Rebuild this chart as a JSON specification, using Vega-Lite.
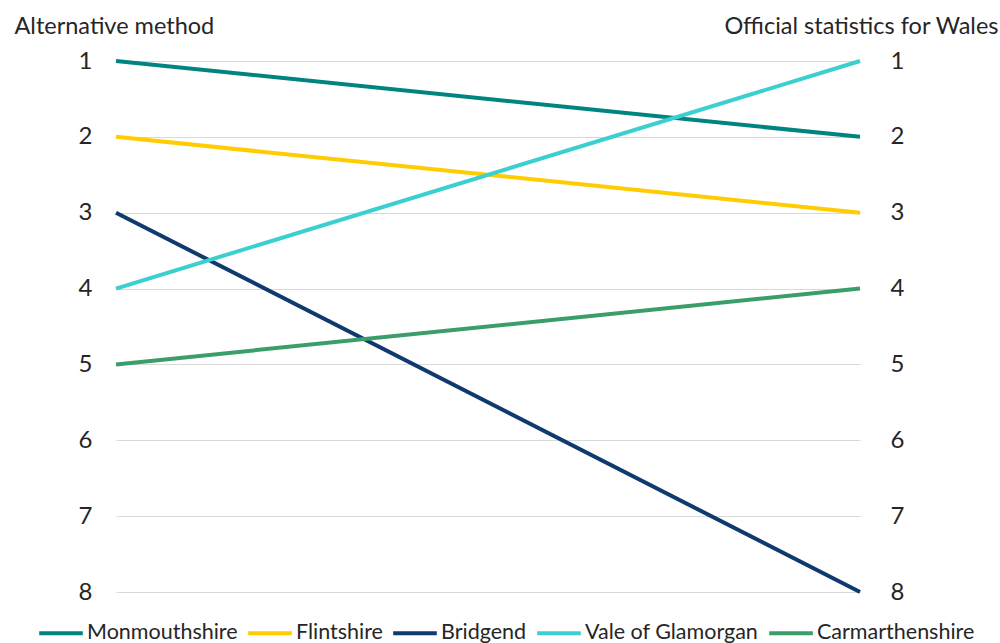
{
  "$schema": "https://vega.github.io/schema/vega-lite/v6.json",
  "autosize": "none",
  "width": 744,
  "height": 531,
  "padding": {"left": 116, "top": 61, "right": 140, "bottom": 51},
  "background": "white",
  "config": {
    "view": {"stroke": null},
    "font": "Lato"
  },
  "data": {
    "values": [
      {"area": "Monmouthshire", "method": 0, "rank": 1},
      {"area": "Monmouthshire", "method": 1, "rank": 2},
      {"area": "Flintshire", "method": 0, "rank": 2},
      {"area": "Flintshire", "method": 1, "rank": 3},
      {"area": "Bridgend", "method": 0, "rank": 3},
      {"area": "Bridgend", "method": 1, "rank": 8},
      {"area": "Vale of Glamorgan", "method": 0, "rank": 4},
      {"area": "Vale of Glamorgan", "method": 1, "rank": 1},
      {"area": "Carmarthenshire", "method": 0, "rank": 5},
      {"area": "Carmarthenshire", "method": 1, "rank": 4}
    ]
  },
  "layer": [
    {
      "mark": {"type": "line", "strokeWidth": 4},
      "encoding": {
        "x": {"field": "method", "type": "quantitative", "scale": {"domain": [0, 1]}, "axis": null},
        "y": {
          "field": "rank", "type": "quantitative",
          "scale": {"domain": [1, 8], "reverse": true, "nice": false, "zero": false},
          "axis": {
            "orient": "left", "values": [1,2,3,4,5,6,7,8], "format": "d",
            "domain": false, "ticks": false, "grid": true, "gridColor": "#d9d9d9", "gridWidth": 1,
            "labelFontSize": 24, "labelColor": "#262626", "labelPadding": 24, "labelFont": "Lato",
            "title": "Alternative method", "titleAngle": 0, "titleAlign": "left", "titleBaseline": "alphabetic",
            "titleX": -102, "titleY": -28, "titleFontSize": 23.5, "titleFontWeight": "normal", "titleColor": "#262626", "titleFont": "Lato"
          }
        },
        "color": {
          "field": "area", "type": "nominal",
          "scale": {
            "domain": ["Monmouthshire", "Flintshire", "Bridgend", "Vale of Glamorgan", "Carmarthenshire"],
            "range": ["#00847F", "#FFCC00", "#0F3A6E", "#3CCFCF", "#3A9E6A"]
          },
          "legend": {
            "title": null, "orient": "none", "direction": "horizontal", "columns": 5,
            "legendX": -79, "legendY": 548,
            "symbolType": "stroke", "symbolSize": 1900, "symbolStrokeWidth": 4,
            "labelFontSize": 21.5, "labelColor": "#262626", "labelOffset": 2, "columnPadding": 2,
            "labelLimit": 400, "labelFont": "Lato"
          }
        }
      }
    },
    {
      "mark": {"type": "point", "opacity": 0},
      "encoding": {
        "x": {"field": "method", "type": "quantitative", "scale": {"domain": [0, 1]}, "axis": null},
        "y": {
          "field": "rank", "type": "quantitative",
          "scale": {"domain": [1, 8], "reverse": true, "nice": false, "zero": false},
          "axis": {
            "orient": "right", "values": [1,2,3,4,5,6,7,8], "format": "d",
            "domain": false, "ticks": false, "grid": false,
            "labelFontSize": 24, "labelColor": "#262626", "labelPadding": 30, "labelFont": "Lato",
            "title": "Official statistics for Wales", "titleAngle": 0, "titleAlign": "right", "titleBaseline": "alphabetic",
            "titleX": 138, "titleY": -28, "titleFontSize": 23.5, "titleFontWeight": "normal", "titleColor": "#262626", "titleFont": "Lato"
          }
        }
      }
    }
  ],
  "resolve": {"scale": {"y": "independent"}, "axis": {"y": "independent"}}
}
